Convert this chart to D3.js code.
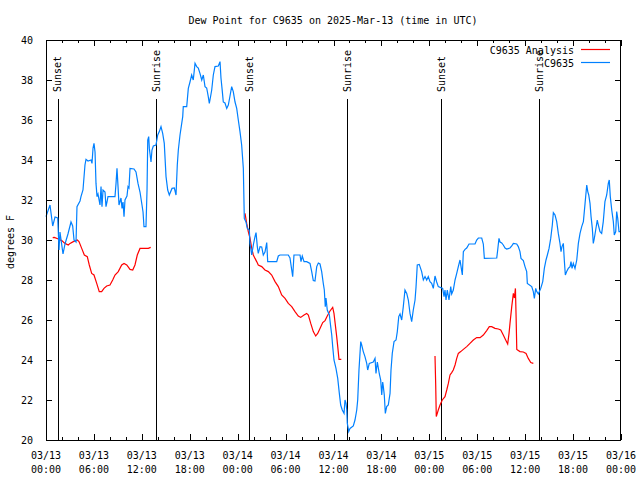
<!DOCTYPE html>
<html>
<head>
<meta charset="utf-8">
<script src="https://cdn.jsdelivr.net/npm/d3@7"></script>
<style>
  html, body { margin: 0; padding: 0; background: #fff; }
  svg { display: block; }
  text { font-family: "DejaVu Sans Mono", "Liberation Mono", monospace; font-size: 10px; fill: #000; }
</style>
</head>
<body>
<svg id="chart" width="640" height="480"></svg>
<script>
// ---- Data (x = hours since 2025-03-13 00:00 UTC, y = dew point °F) ----
const titleText = "Dew Point for C9635 on 2025-Mar-13 (time in UTC)";
const yLabelText = "degrees F";
const seriesNames = ["C9635 Analysis", "C9635"];

const yTicks = [20, 22, 24, 26, 28, 30, 32, 34, 36, 38, 40];
const xTickHours = [0, 6, 12, 18, 24, 30, 36, 42, 48, 54, 60, 66, 72];
const xTickDates = ["03/13","03/13","03/13","03/13","03/14","03/14","03/14","03/14","03/15","03/15","03/15","03/15","03/16"];
const xTickTimes = ["00:00","06:00","12:00","18:00","00:00","06:00","12:00","18:00","00:00","06:00","12:00","18:00","00:00"];

const sunEvents = [
  {h: 1.44, label: "Sunset"}, {h: 13.81, label: "Sunrise"},
  {h: 25.46, label: "Sunset"}, {h: 37.73, label: "Sunrise"},
  {h: 49.50, label: "Sunset"}, {h: 61.77, label: "Sunrise"}
];

// Observed (blue)
const obs = [
[0.00,31.17],[0.50,31.75],[0.84,30.7],[1.13,31.15],[1.47,31.1],[1.63,29.5],[1.75,30.4],[2.13,29.3],
[2.38,29.8],[2.75,30.3],[3.13,30.9],[3.34,30.7],[3.51,30.0],[3.76,29.9],[3.88,31.67],[4.26,31.95],
[4.38,32.17],[4.63,32.5],[4.88,33.75],[5.01,34.03],[5.26,33.95],[5.64,34.0],[5.76,33.83],[5.89,34.6],
[6.01,34.83],[6.14,34.4],[6.26,32.83],[6.39,32.17],[6.51,32.3],[6.76,31.75],[6.89,32.67],[7.01,31.67],
[7.14,32.5],[7.39,32.4],[7.51,31.67],[7.64,31.9],[7.76,32.17],[8.64,32.17],[8.77,32.83],[8.89,33.58],
[9.02,32.67],[9.14,31.75],[9.39,32.1],[9.52,31.58],[9.64,31.9],[9.77,31.17],[9.89,32.0],[10.14,32.2],
[10.27,32.67],[10.39,32.6],[10.52,33.58],[11.02,33.55],[11.27,33.4],[11.52,32.83],[11.77,32.4],
[12.02,31.75],[12.15,31.4],[12.27,30.67],[12.52,30.67],[12.65,32.5],[12.74,35.0],[12.86,35.17],
[12.94,34.58],[13.15,33.9],[13.27,34.5],[13.44,34.7],[13.77,34.75],[13.99,35.25],[14.19,35.42],
[14.40,35.67],[14.61,35.33],[14.81,34.83],[15.03,33.17],[15.24,32.5],[15.44,32.25],[15.78,32.58],
[16.07,32.6],[16.28,32.25],[16.44,33.75],[16.57,34.5],[16.78,35.25],[17.12,36.17],[17.19,36.67],
[17.62,36.67],[17.82,37.58],[18.03,37.9],[18.24,38.25],[18.44,38.0],[18.66,38.83],[18.87,38.67],
[19.07,38.6],[19.28,38.33],[19.50,38.0],[19.70,38.25],[19.91,37.67],[20.12,37.6],[20.32,37.17],
[20.45,36.83],[20.62,37.2],[20.75,37.5],[20.95,38.25],[21.16,38.67],[21.58,38.7],[21.79,38.92],
[21.91,38.1],[22.08,37.42],[22.20,36.9],[22.41,36.85],[22.63,36.58],[22.83,36.75],[23.04,37.2],
[23.25,37.67],[23.45,37.42],[23.67,36.9],[23.88,36.58],[24.08,36.0],[24.29,35.42],[24.50,34.75],
[24.71,33.58],[24.83,31.08],[25.04,30.9],[25.21,30.58],[25.46,30.5],[25.54,29.83],[25.76,29.25],
[25.96,29.75],[26.17,30.17],[26.30,30.37],[26.46,29.67],[26.58,29.33],[26.80,29.67],[27.01,29.65],
[27.21,29.25],[27.42,29.4],[27.64,29.87],[27.76,28.92],[28.89,28.92],[29.09,29.2],[29.30,29.25],
[30.34,29.25],[30.55,29.1],[30.77,28.5],[30.89,28.17],[31.05,29.25],[31.81,29.25],[31.93,28.92],
[32.09,29.2],[32.31,28.92],[32.64,28.92],[33.06,28.83],[33.27,28.42],[33.47,27.97],[33.68,27.95],
[33.90,28.67],[34.10,28.85],[34.31,28.8],[34.52,28.42],[34.72,27.83],[34.85,27.5],[34.97,26.67],
[35.06,27.1],[35.22,26.5],[35.48,26.25],[35.65,25.67],[35.78,25.25],[35.90,24.67],[36.06,24.0],
[36.31,23.58],[36.53,23.08],[36.73,22.33],[36.90,21.75],[37.10,21.5],[37.32,21.33],[37.44,22.0],
[37.57,21.83],[37.66,21.5],[37.73,20.83],[37.91,20.42],[38.07,20.58],[38.48,20.7],[38.69,21.0],
[38.91,21.5],[39.03,22.0],[39.19,23.5],[39.41,24.92],[39.53,24.75],[39.73,24.42],[39.94,24.17],
[40.16,23.83],[40.28,23.5],[40.48,23.83],[40.98,23.9],[41.20,24.08],[41.32,23.33],[41.49,23.9],
[41.74,23.3],[41.91,23.0],[42.04,22.25],[42.16,22.9],[42.24,22.67],[42.36,22.25],[42.49,21.33],
[42.66,21.67],[42.86,21.75],[43.08,22.33],[43.20,23.5],[43.36,24.33],[43.58,24.92],[43.83,25.0],
[43.99,25.42],[44.17,26.17],[44.33,26.3],[44.54,26.0],[44.74,26.67],[44.95,27.5],[45.17,27.33],
[45.37,27.0],[45.58,26.33],[45.79,25.92],[45.99,26.5],[46.21,27.0],[46.33,27.63],[46.49,28.75],
[46.74,28.78],[47.04,28.42],[47.25,28.0],[47.46,28.17],[47.67,28.0],[47.87,28.17],[48.08,27.92],
[48.29,27.83],[48.50,27.58],[48.71,28.2],[48.92,27.9],[49.12,27.67],[49.67,27.58],[49.84,27.17],
[49.96,27.5],[50.09,27.0],[50.25,27.5],[50.46,27.0],[50.68,27.67],[50.80,27.3],[51.00,27.5],
[51.22,28.0],[51.43,28.33],[51.63,28.67],[51.84,29.0],[51.97,28.67],[52.13,28.25],[52.26,29.42],
[52.47,29.53],[52.68,29.6],[52.97,29.8],[53.72,29.8],[53.93,30.0],[54.14,30.1],[54.56,30.1],
[54.76,29.8],[54.89,29.08],[56.44,29.1],[56.56,29.5],[56.72,30.08],[56.85,29.9],[57.06,29.85],
[57.26,29.75],[57.48,29.6],[57.69,29.55],[58.10,29.6],[58.32,29.7],[58.52,29.83],[58.94,29.8],
[59.14,29.67],[59.35,29.42],[59.48,29.08],[59.77,28.97],[59.98,28.67],[60.19,28.42],[60.27,27.83],
[60.82,27.67],[61.02,27.42],[61.15,27.08],[61.32,27.58],[61.45,27.42],[61.65,27.3],[61.95,27.58],
[62.20,27.92],[62.40,28.58],[62.61,29.0],[62.78,29.25],[62.99,29.58],[63.20,30.08],[63.40,30.75],
[63.53,31.37],[63.74,31.25],[63.95,30.92],[64.15,30.33],[64.36,29.83],[64.49,29.42],[64.61,29.67],
[64.78,29.83],[64.90,29.0],[65.03,28.25],[65.20,28.42],[65.40,28.58],[65.62,28.67],[65.74,28.92],
[65.87,28.58],[66.03,28.83],[66.24,28.58],[66.46,29.0],[66.66,29.83],[66.87,30.33],[67.08,30.67],
[67.29,30.92],[67.50,31.83],[67.71,32.75],[67.84,32.42],[67.96,32.25],[68.12,31.83],[68.25,31.17],
[68.41,30.58],[68.53,29.83],[68.66,30.08],[68.83,30.5],[69.03,31.0],[69.16,30.75],[69.37,30.42],
[69.58,30.33],[69.78,30.92],[69.99,31.92],[70.21,32.25],[70.41,32.83],[70.53,33.0],[70.66,32.17],
[70.84,31.5],[71.04,30.92],[71.16,30.25],[71.34,30.42],[71.46,31.42],[71.59,31.08],[71.75,30.42],
[71.96,30.42]
];

// Analysis (red), three separate runs
const analysis1 = [
[0.84,30.12],[1.04,30.13],[1.54,30.05],[1.97,29.97],[2.38,29.83],[2.79,29.75],[3.01,29.83],[3.42,29.92],
[3.92,30.0],[4.13,29.92],[4.47,29.58],[4.80,29.25],[5.17,29.17],[5.42,28.75],[5.72,28.33],[6.01,28.25],
[6.35,27.83],[6.67,27.42],[6.97,27.42],[7.26,27.58],[7.60,27.7],[8.01,27.75],[8.35,28.0],[8.64,28.25],
[9.05,28.42],[9.48,28.75],[9.77,28.83],[10.11,28.75],[10.52,28.53],[10.86,28.5],[11.14,28.75],
[11.43,29.25],[11.77,29.58],[12.81,29.58],[13.11,29.63]
];
const analysis2 = [
[24.92,31.33],[25.13,30.83],[25.33,30.42],[25.54,30.1],[25.76,29.58],[25.96,29.25],[26.17,29.08],
[26.38,28.92],[26.58,28.75],[27.01,28.67],[27.42,28.5],[27.84,28.42],[28.26,28.25],[28.68,27.92],
[29.09,27.67],[29.51,27.25],[29.93,27.08],[30.34,26.83],[30.77,26.67],[31.18,26.42],[31.59,26.2],
[31.89,26.13],[32.31,26.25],[32.64,26.33],[32.85,26.25],[33.15,25.83],[33.47,25.42],[33.77,25.2],
[34.02,25.33],[34.31,25.58],[34.65,25.87],[34.94,25.97],[35.22,26.2],[35.56,26.45],[35.90,26.63],
[36.06,26.33],[36.28,25.58],[36.40,25.17],[36.53,24.67],[36.69,24.03],[36.98,24.03]
];
const analysis3 = [
[48.71,24.2],[48.80,22.7],[48.87,21.17],[49.12,21.5],[49.34,21.75],[49.62,22.0],[49.96,22.17],
[50.18,22.5],[50.38,22.83],[50.59,23.25],[50.80,23.37],[51.00,23.5],[51.22,23.75],[51.43,24.08],
[51.63,24.33],[51.93,24.42],[52.26,24.53],[52.68,24.67],[53.09,24.83],[53.51,25.0],[53.93,25.12],
[54.35,25.12],[54.76,25.25],[55.18,25.47],[55.51,25.67],[55.81,25.67],[56.22,25.58],[56.64,25.55],
[56.94,25.5],[57.26,25.25],[57.56,25.0],[57.81,24.8],[57.98,25.33],[58.10,25.83],[58.32,26.67],
[58.52,27.33],[58.65,27.1],[58.78,27.58],[58.87,26.08],[58.95,24.53],[59.35,24.42],[59.77,24.4],
[60.11,24.33],[60.39,24.08],[60.70,23.87],[61.02,23.83]
];
const analysisRuns = [analysis1, analysis2, analysis3];

// ---- Layout ----
const svg = d3.select("#chart");
const L = 46, R = 621, T = 40, B = 440;
const red = "#ff0000", blue = "#0080ff";

const x = d3.scaleLinear().domain([0, 72]).range([L, R]);
const y = d3.scaleLinear().domain([20, 40]).range([B, T]);

const minorHours = d3.range(0, 73, 2).filter(h => h % 6 !== 0);

// Title
svg.append("text").attr("x", 333).attr("y", 24).attr("text-anchor", "middle").text(titleText);

// Y label
svg.append("text").attr("transform", "translate(14,242) rotate(-90)")
  .attr("text-anchor", "middle").text(yLabelText);

// Axes: ticks drawn inward
const gAx = svg.append("g").attr("shape-rendering", "crispEdges");

// left axis (labels)
const leftAxis = d3.axisLeft(y).tickValues(yTicks).tickSize(-6).tickPadding(13).tickFormat(d3.format("d"));
gAx.append("g").attr("transform", `translate(${L},0)`).call(leftAxis)
  .call(g => g.select(".domain").remove())
  .call(g => g.selectAll("text").style("font-family", null).style("font-size", null).attr("font-family", null).attr("font-size", null));
// right axis ticks
gAx.append("g").attr("transform", `translate(${R},0)`)
  .call(d3.axisRight(y).tickValues(yTicks).tickSize(-6).tickFormat(""))
  .call(g => g.select(".domain").remove());

// bottom axis major
const bottom = gAx.append("g").attr("transform", `translate(0,${B})`)
  .call(d3.axisBottom(x).tickValues(xTickHours).tickSize(-6).tickFormat(""))
  .call(g => g.select(".domain").remove());
gAx.append("g").attr("transform", `translate(0,${B})`)
  .call(d3.axisBottom(x).tickValues(minorHours).tickSize(-3).tickFormat(""))
  .call(g => g.select(".domain").remove());
// top axis
gAx.append("g").attr("transform", `translate(0,${T})`)
  .call(d3.axisTop(x).tickValues(xTickHours).tickSize(-6).tickFormat(""))
  .call(g => g.select(".domain").remove());
gAx.append("g").attr("transform", `translate(0,${T})`)
  .call(d3.axisTop(x).tickValues(minorHours).tickSize(-3).tickFormat(""))
  .call(g => g.select(".domain").remove());

svg.selectAll(".tick line").attr("stroke", "#000");
svg.selectAll(".tick text").attr("fill", "#000");

// x labels, two lines
const xl = svg.append("g");
xTickHours.forEach((h, i) => {
  const t = xl.append("text").attr("text-anchor", "middle").attr("x", x(h));
  t.append("tspan").attr("x", x(h)).attr("y", 459).text(xTickDates[i]);
  t.append("tspan").attr("x", x(h)).attr("y", 473).text(xTickTimes[i]);
});

// Sunrise / sunset lines
sunEvents.forEach(e => {
  svg.append("line").attr("x1", Math.round(x(e.h)) + 0.5).attr("x2", Math.round(x(e.h)) + 0.5)
    .attr("y1", 99).attr("y2", B).attr("stroke", "#000").attr("stroke-width", 1);
  svg.append("text").attr("transform", `translate(${x(e.h) + 3.5},92) rotate(-90)`)
    .attr("text-anchor", "start").text(e.label);
});

// Data lines
const line = d3.line().x(d => x(d[0])).y(d => y(d[1]));
analysisRuns.forEach(run => {
  svg.append("path").datum(run).attr("d", line).attr("fill", "none")
    .attr("stroke", red).attr("stroke-width", 1.2);
});
svg.append("path").datum(obs).attr("d", line).attr("fill", "none")
  .attr("stroke", blue).attr("stroke-width", 1.2);

// Border
svg.append("rect").attr("x", L + 0.5).attr("y", T + 0.5).attr("width", R - L - 1).attr("height", B - T)
  .attr("fill", "none").attr("stroke", "#000").attr("shape-rendering", "crispEdges");

// Legend
const legColors = [red, blue];
seriesNames.forEach((n, i) => {
  const ly = 50 + i * 13;
  svg.append("text").attr("x", 574).attr("y", ly + 3.5).attr("text-anchor", "end").text(n);
  svg.append("line").attr("x1", 581).attr("x2", 610).attr("y1", ly - 0.5).attr("y2", ly - 0.5)
    .attr("stroke", legColors[i]).attr("stroke-width", 1.2);
});
</script>
</body>
</html>
